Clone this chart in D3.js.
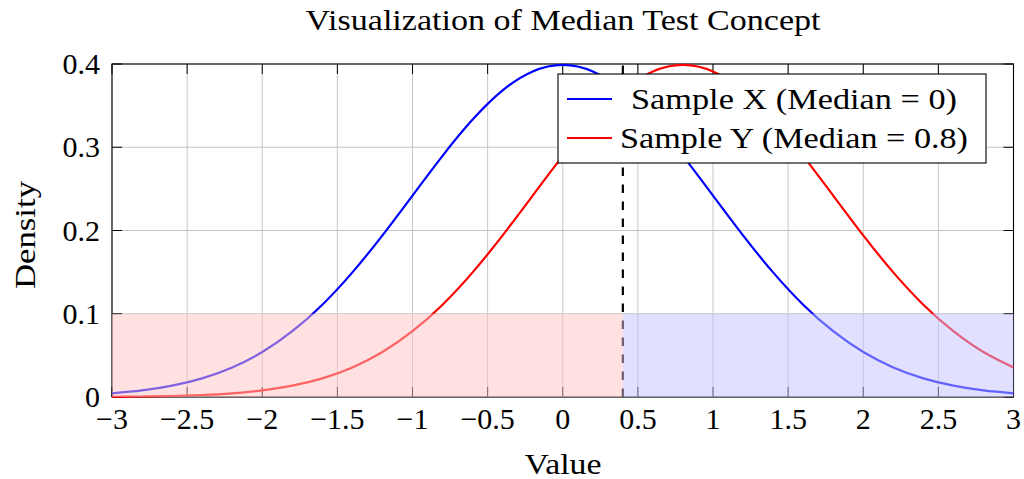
<!DOCTYPE html>
<html>
<head>
<meta charset="utf-8">
<script src="https://cdn.jsdelivr.net/npm/d3@7"></script>
<style>
  html, body { margin: 0; padding: 0; background: #fff; }
  svg { display: block; }
  text { font-family: "Liberation Serif", "Times New Roman", serif; fill: #000; }
</style>
</head>
<body>
<svg id="chart" width="1024" height="479"></svg>
<script>
// Sample points along the value axis
const xValues = [-3, -2.8, -2.6, -2.4, -2.2, -2, -1.8, -1.6, -1.4, -1.2, -1, -0.8, -0.6, -0.4, -0.2,
  0, 0.2, 0.4, 0.6, 0.8, 1, 1.2, 1.4, 1.6, 1.8, 2, 2.2, 2.4, 2.6, 2.8, 3];
// Density of sample X (median 0)
const densityX = [0.0044, 0.0079, 0.0136, 0.0224, 0.0355, 0.0540, 0.0790, 0.1109, 0.1497, 0.1942, 0.2420, 0.2897, 0.3332, 0.3683, 0.3910,
  0.3989, 0.3910, 0.3683, 0.3332, 0.2897, 0.2420, 0.1942, 0.1497, 0.1109, 0.0790, 0.0540, 0.0355, 0.0224, 0.0136, 0.0079, 0.0044];
// Density of sample Y (median 0.8)
const densityY = [0.0003, 0.0006, 0.0012, 0.0024, 0.0044, 0.0079, 0.0136, 0.0224, 0.0355, 0.0540, 0.0790, 0.1109, 0.1497, 0.1942, 0.2420,
  0.2897, 0.3332, 0.3683, 0.3910, 0.3989, 0.3910, 0.3683, 0.3332, 0.2897, 0.2420, 0.1942, 0.1497, 0.1109, 0.0790, 0.0540, 0.0355];

const seriesNames = ["Sample X (Median = 0)", "Sample Y (Median = 0.8)"];
const seriesColors = ["#0000ff", "#ff0000"];

// Pooled median split and the shaded regions below it / above it
const splitValue = 0.4;
const regionTop = 0.1;

const xTicks = [-3, -2.5, -2, -1.5, -1, -0.5, 0, 0.5, 1, 1.5, 2, 2.5, 3];
const xTickLabels = ["\u22123", "\u22122.5", "\u22122", "\u22121.5", "\u22121", "\u22120.5", "0", "0.5", "1", "1.5", "2", "2.5", "3"];
const yTicks = [0, 0.1, 0.2, 0.3, 0.4];
const yTickLabels = ["0", "0.1", "0.2", "0.3", "0.4"];

const titleText = "Visualization of Median Test Concept";
const xLabelText = "Value";
const yLabelText = "Density";

const svg = d3.select("#chart");
const plotLeft = 112, plotRight = 1013.5, plotTop = 64, plotBottom = 397;
const x = d3.scaleLinear().domain([-3, 3]).range([plotLeft, plotRight]);
const y = d3.scaleLinear().domain([0, 0.4]).range([plotBottom, plotTop]);
const fontSize = 30;

// grid
const grid = svg.append("g");
grid.selectAll("line.gx").data(xTicks).join("line")
  .attr("x1", d => x(d)).attr("x2", d => x(d)).attr("y1", plotTop).attr("y2", plotBottom)
  .attr("stroke", "#c6c6c6").attr("stroke-width", 1);
grid.selectAll("line.gy").data(yTicks).join("line")
  .attr("x1", plotLeft).attr("x2", plotRight).attr("y1", d => y(d)).attr("y2", d => y(d))
  .attr("stroke", "#c6c6c6").attr("stroke-width", 1);

// inward tick marks on all four sides
const tickLen = 10;
const ticks = svg.append("g").attr("stroke", "#000").attr("stroke-width", 1);
xTicks.forEach(v => {
  ticks.append("line").attr("x1", x(v)).attr("x2", x(v)).attr("y1", plotBottom).attr("y2", plotBottom - tickLen);
  ticks.append("line").attr("x1", x(v)).attr("x2", x(v)).attr("y1", plotTop).attr("y2", plotTop + tickLen);
});
yTicks.forEach(v => {
  ticks.append("line").attr("x1", plotLeft).attr("x2", plotLeft + tickLen).attr("y1", y(v)).attr("y2", y(v));
  ticks.append("line").attr("x1", plotRight).attr("x2", plotRight - tickLen).attr("y1", y(v)).attr("y2", y(v));
});

// frame
svg.append("rect").attr("x", plotLeft).attr("y", plotTop)
  .attr("width", plotRight - plotLeft).attr("height", plotBottom - plotTop)
  .attr("fill", "none").attr("stroke", "#000").attr("stroke-width", 1.1);

// density curves
const line = d3.line().x(d => x(d[0])).y(d => y(d[1])).curve(d3.curveNatural);
[densityX, densityY].forEach((vals, i) => {
  svg.append("path")
    .datum(xValues.map((v, j) => [v, vals[j]]))
    .attr("d", line)
    .attr("fill", "none")
    .attr("stroke", seriesColors[i])
    .attr("stroke-width", 2.2);
});

// median split line
svg.append("line")
  .attr("x1", x(splitValue)).attr("x2", x(splitValue))
  .attr("y1", y(0)).attr("y2", y(0.4))
  .attr("stroke", "#000").attr("stroke-width", 2.2)
  .attr("stroke-dasharray", "8.5,8.5");

// shaded regions on each side of the split
svg.append("rect")
  .attr("x", x(-3)).attr("y", y(regionTop))
  .attr("width", x(splitValue) - x(-3)).attr("height", y(0) - y(regionTop))
  .attr("fill", "#ffc4c4").attr("fill-opacity", 0.5);
svg.append("rect")
  .attr("x", x(splitValue)).attr("y", y(regionTop))
  .attr("width", x(3) - x(splitValue)).attr("height", y(0) - y(regionTop))
  .attr("fill", "#c4c4ff").attr("fill-opacity", 0.5);

// tick labels
svg.append("g").selectAll("text").data(xTicks).join("text")
  .attr("x", d => x(d)).attr("y", 429)
  .attr("text-anchor", "middle").attr("font-size", fontSize)
  .text((d, i) => xTickLabels[i]);
svg.append("g").selectAll("text").data(yTicks).join("text")
  .attr("x", 100).attr("y", d => y(d) + 10)
  .attr("text-anchor", "end").attr("font-size", fontSize)
  .text((d, i) => yTickLabels[i]);

// title and axis labels
svg.append("text").attr("x", 563).attr("y", 30).attr("text-anchor", "middle")
  .attr("font-size", fontSize).attr("textLength", 515).attr("lengthAdjust", "spacingAndGlyphs")
  .text(titleText);
svg.append("text").attr("x", 563).attr("y", 474).attr("text-anchor", "middle")
  .attr("font-size", fontSize).attr("textLength", 77).attr("lengthAdjust", "spacingAndGlyphs")
  .text(xLabelText);
svg.append("text").attr("transform", "translate(35,235) rotate(-90)").attr("text-anchor", "middle")
  .attr("font-size", fontSize).attr("textLength", 108).attr("lengthAdjust", "spacingAndGlyphs")
  .text(yLabelText);

// legend
const legend = svg.append("g");
legend.append("rect").attr("x", 558).attr("y", 74).attr("width", 428).attr("height", 89)
  .attr("fill", "#fff").attr("stroke", "#000").attr("stroke-width", 1.1);
const legendRows = [99, 138];
const legendWidths = [326, 348];
seriesNames.forEach((name, i) => {
  legend.append("line").attr("x1", 567).attr("x2", 612)
    .attr("y1", legendRows[i]).attr("y2", legendRows[i])
    .attr("stroke", seriesColors[i]).attr("stroke-width", 2.2);
  legend.append("text").attr("x", 794).attr("y", legendRows[i] + 10)
    .attr("text-anchor", "middle").attr("font-size", fontSize)
    .attr("textLength", legendWidths[i]).attr("lengthAdjust", "spacingAndGlyphs")
    .text(name);
});
</script>
</body>
</html>
